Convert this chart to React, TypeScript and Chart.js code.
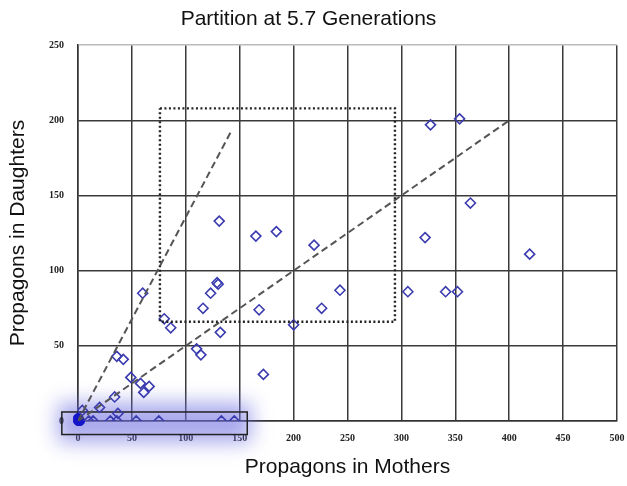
import React, { useEffect, useRef } from "react";
import { Chart, registerables } from "chart.js";

Chart.register(...registerables);

const chartTitle = "Partition at 5.7 Generations";
const xTitle = "Propagons in Mothers";
const yTitle = "Propagons in Daughters";

const mothers = [131, 165, 184, 219, 243, 226, 168, 200, 172, 129, 130, 123, 116, 132, 80, 86, 60, 110, 114, 36, 42, 49, 58, 66, 61, 34, 327, 354, 364, 322, 419, 306, 341, 352, 4, 10, 14, 20, 30, 37, 36, 54, 75, 133, 145];
const daughters = [133, 123, 126, 117, 87, 75, 74, 64, 31, 92, 91, 85, 75, 59, 68, 62, 85, 48, 44, 43, 41, 29, 25, 23, 19, 16, 197, 201, 145, 122, 111, 86, 86, 86, 7, 0, 0, 9, 0, 5, 0, 0, 0, 0, 0];

const originMothers = [0, 1, 2, 0, 1];
const originDaughters = [0, 1, 0, 2, 0];

const steepLineX = [0, 143];
const steepLineY = [0, 194];
const halfLineX = [0, 400];
const halfLineY = [0, 200];

const dottedBoxX = [76, 294, 294, 76, 76];
const dottedBoxY = [208, 208, 66, 66, 208];

const highlightX = [-15, 157];
const highlightY = [-9, 6];

const xTicks = [0, 50, 100, 150, 200, 250, 300, 350, 400, 450, 500];
const yTicks = [0, 50, 100, 150, 200, 250];

const zip = (xs: number[], ys: number[]) => xs.map((x, i) => ({ x, y: ys[i] }));

const highlightPlugin = {
  id: "highlightBox",
  beforeDatasetsDraw(chart: any) {
    const { ctx, scales } = chart;
    const x0 = scales.x.getPixelForValue(highlightX[0]);
    const x1 = scales.x.getPixelForValue(highlightX[1]);
    const y0 = scales.y.getPixelForValue(highlightY[1]);
    const y1 = scales.y.getPixelForValue(highlightY[0]);
    ctx.save();
    ctx.filter = "blur(10px)";
    ctx.fillStyle = "rgba(110,110,225,0.6)";
    ctx.fillRect(x0 - 4, y0 - 9, x1 - x0 + 8, y1 - y0 + 17);
    ctx.filter = "none";
    ctx.strokeStyle = "#222";
    ctx.lineWidth = 1.5;
    ctx.strokeRect(x0, y0, x1 - x0, y1 - y0);
    ctx.restore();
  },
};

export default function App() {
  const ref = useRef<HTMLCanvasElement>(null);
  useEffect(() => {
    if (!ref.current) return;
    const chart = new Chart(ref.current, {
      type: "scatter",
      data: {
        datasets: [
          {
            label: "box",
            type: "line",
            data: zip(dottedBoxX, dottedBoxY),
            borderColor: "#222",
            borderWidth: 2.4,
            borderDash: [2, 2.5],
            pointRadius: 0,
            fill: false,
            tension: 0,
          } as any,
          {
            label: "steep",
            type: "line",
            data: zip(steepLineX, steepLineY),
            borderColor: "#555",
            borderWidth: 2,
            borderDash: [7, 4],
            pointRadius: 0,
            fill: false,
          } as any,
          {
            label: "half",
            type: "line",
            data: zip(halfLineX, halfLineY),
            borderColor: "#555",
            borderWidth: 2,
            borderDash: [7, 4],
            pointRadius: 0,
            fill: false,
          } as any,
          {
            label: "points",
            data: zip(mothers, daughters),
            pointStyle: "rectRot",
            pointRadius: 5,
            borderColor: "#3b3bb0",
            borderWidth: 1.6,
            backgroundColor: "rgba(0,0,0,0)",
          },
          {
            label: "origin",
            data: zip(originMothers, originDaughters),
            pointStyle: "circle",
            pointRadius: 4.5,
            borderColor: "#1414c8",
            borderWidth: 1,
            backgroundColor: "#1414c8",
            clip: false,
          } as any,
        ],
      },
      options: {
        animation: false,
        responsive: false,
        layout: { padding: { left: 0, right: 10, top: 0, bottom: 0 } },
        plugins: {
          legend: { display: false },
          tooltip: { enabled: false },
          title: {
            display: true,
            text: chartTitle,
            color: "#111",
            font: { family: "'Liberation Sans', Arial, sans-serif", size: 21, weight: "normal" },
            padding: { top: 7, bottom: 13 },
          },
        },
        scales: {
          x: {
            type: "linear",
            min: 0,
            max: 500,
            afterBuildTicks: (s: any) => {
              s.ticks = xTicks.map((v) => ({ value: v }));
            },
            afterFit: (s: any) => {
              s.height = 65;
              s.paddingRight = 0;
              s.paddingLeft = 0;
            },
            grid: { color: "#3a3a3a", lineWidth: 1.5, drawTicks: false },
            border: { color: "#333", width: 1.5 },
            ticks: {
              padding: 11,
              color: "#222",
              font: { family: "'Liberation Serif', serif", size: 10, weight: "bold" },
            },
            title: {
              display: true,
              text: xTitle,
              color: "#111",
              font: { family: "'Liberation Sans', Arial, sans-serif", size: 21 },
              padding: { top: 4, bottom: 6 },
            },
          },
          y: {
            type: "linear",
            min: 0,
            max: 250,
            afterBuildTicks: (s: any) => {
              s.ticks = yTicks.map((v) => ({ value: v }));
            },
            afterFit: (s: any) => {
              s.width = 78;
              s.paddingTop = 0;
              s.paddingBottom = 0;
            },
            grid: {
              color: (c: any) => (c.tick && c.tick.value === 250 ? "#bbbbbb" : "#3a3a3a"),
              lineWidth: 1.5,
              drawTicks: false,
            },
            border: { color: "#333", width: 1.5 },
            ticks: {
              padding: 14,
              color: "#222",
              font: { family: "'Liberation Serif', serif", size: 10, weight: "bold" },
            },
            title: {
              display: true,
              text: yTitle,
              color: "#111",
              font: { family: "'Liberation Sans', Arial, sans-serif", size: 21 },
              padding: { top: 6, bottom: 4 },
            },
          },
        },
      },
      plugins: [highlightPlugin],
    } as any);
    return () => chart.destroy();
  }, []);
  return (
    <div style={{ position: "fixed", left: 0, top: 0, width: 627, height: 486, background: "#fff" }}>
      <canvas ref={ref} width={627} height={486} />
    </div>
  );
}
